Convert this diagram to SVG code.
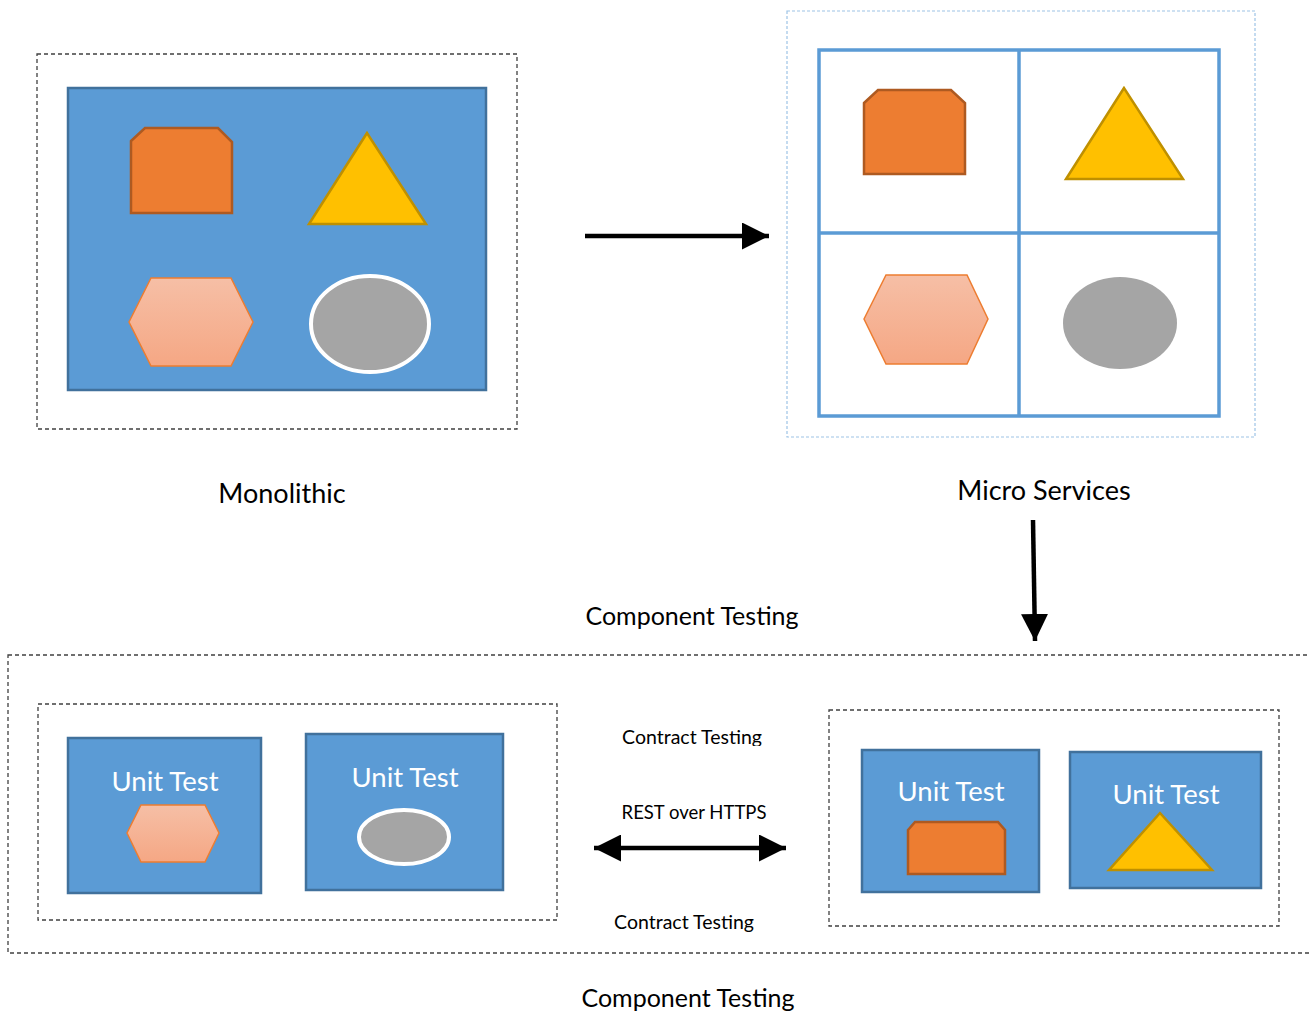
<svg xmlns="http://www.w3.org/2000/svg" width="1310" height="1013" viewBox="0 0 1310 1013">
<defs>
<linearGradient id="hexg" x1="0" y1="0" x2="0" y2="1">
<stop offset="0" stop-color="#F6BFA6"/>
<stop offset="1" stop-color="#F5A784"/>
</linearGradient>
<marker id="ah" viewBox="0 0 10 10" refX="10" refY="5" markerWidth="6" markerHeight="6" markerUnits="strokeWidth" orient="auto-start-reverse">
<path d="M0,0 L10,5 L0,10 Z" fill="#000"/>
</marker>
<clipPath id="clipCT"><rect x="600" y="715" width="180" height="31"/></clipPath>
</defs>
<style>
.dash{fill:none;stroke:#404040;stroke-width:1.3;stroke-dasharray:4 3}
.blue{fill:#5B9BD5;stroke:#41719C;stroke-width:2.5}
.snip{fill:#ED7D31;stroke:#AE5A21;stroke-width:2.5}
.tri{fill:#FFC000;stroke:#BF9000;stroke-width:2.5}
.hex{fill:url(#hexg);stroke:#ED7D31;stroke-width:1.5}
.ell{fill:#A5A5A5;stroke:#FFFFFF;stroke-width:4}
.lbl{font-family:Lato,"Liberation Sans",sans-serif;fill:#000;text-anchor:middle}
.ut{font-family:Lato,"Liberation Sans",sans-serif;fill:#FFFFFF;text-anchor:middle;font-size:27.5px}
.con{stroke:#000;fill:none}
</style>
<rect width="1310" height="1013" fill="#FFFFFF"/>

<g id="monolithic">
<rect class="dash" x="37" y="54" width="480" height="375"/>
<rect class="blue" x="68" y="88" width="418" height="302"/>
<polygon class="snip" points="131,141 145,128 218,128 232,142 232,213 131,213"/>
<polygon class="tri" points="367,133 309,224 426,224"/>
<polygon class="hex" points="129,322 151,278 231,278 253,322 231,366 151,366"/>
<ellipse class="ell" cx="370" cy="324" rx="59" ry="48"/>
<text class="lbl" x="282" y="503" font-size="27">Monolithic</text>
</g>

<g id="microservices">
<rect x="787" y="11" width="468" height="426" fill="none" stroke="#9DC3E6" stroke-width="1.2" stroke-dasharray="3 2"/>
<rect x="819" y="50" width="400" height="366" fill="#FFFFFF" stroke="#5B9BD5" stroke-width="3.5"/>
<line x1="1019" y1="50" x2="1019" y2="416" stroke="#5B9BD5" stroke-width="3.5"/>
<line x1="819" y1="233" x2="1219" y2="233" stroke="#5B9BD5" stroke-width="3.5"/>
<polygon class="snip" points="864,103 878,90 951,90 965,103 965,174 864,174"/>
<polygon class="tri" points="1124,88 1066,179 1183,179"/>
<polygon class="hex" points="864,319 886,275 967,275 988,319 967,364 886,364"/>
<ellipse cx="1120" cy="323" rx="57" ry="46" fill="#A5A5A5"/>
<text class="lbl" x="1044" y="500" font-size="27">Micro Services</text>
</g>

<g id="connectors">
<line class="con" x1="585" y1="236" x2="769" y2="236" stroke-width="4.5" marker-end="url(#ah)"/>
<line class="con" x1="1033" y1="520" x2="1035" y2="641" stroke-width="4.5" marker-end="url(#ah)"/>
<line class="con" x1="594" y1="848" x2="786" y2="848" stroke-width="4.5" marker-start="url(#ah)" marker-end="url(#ah)"/>
</g>

<g id="component-testing">
<rect class="dash" x="8" y="655" width="1310" height="298"/>
<text class="lbl" x="692" y="625" font-size="25">Component Testing</text>
<text class="lbl" x="688" y="1007" font-size="25">Component Testing</text>
</g>

<g id="service-a">
<rect class="dash" x="38" y="704" width="519" height="216"/>
<g id="unit-test-1">
<rect class="blue" x="68" y="738" width="193" height="155"/>
<text class="ut" x="165" y="791">Unit Test</text>
<polygon class="hex" points="127,833 141,805 205,805 219,833 205,862 141,862"/>
</g>
<g id="unit-test-2">
<rect class="blue" x="306" y="734" width="197" height="156"/>
<text class="ut" x="405" y="787">Unit Test</text>
<ellipse class="ell" cx="404" cy="837" rx="45" ry="27"/>
</g>
</g>

<g id="contract-labels">
<text class="lbl" x="692" y="744" font-size="19.5" clip-path="url(#clipCT)">Contract Testing</text>
<text class="lbl" x="694" y="819" font-size="18.5">REST over HTTPS</text>
<text class="lbl" x="684" y="929" font-size="19.5">Contract Testing</text>
</g>

<g id="service-b">
<rect class="dash" x="829" y="710" width="450" height="216"/>
<g id="unit-test-3">
<rect class="blue" x="862" y="750" width="177" height="142"/>
<text class="ut" x="951" y="801">Unit Test</text>
<polygon class="snip" points="908,830 915,822 998,822 1005,830 1005,874 908,874"/>
</g>
<g id="unit-test-4">
<rect class="blue" x="1070" y="752" width="191" height="136"/>
<text class="ut" x="1166" y="804">Unit Test</text>
<polygon class="tri" points="1160,813 1109,870 1212,870"/>
</g>
</g>
</svg>
